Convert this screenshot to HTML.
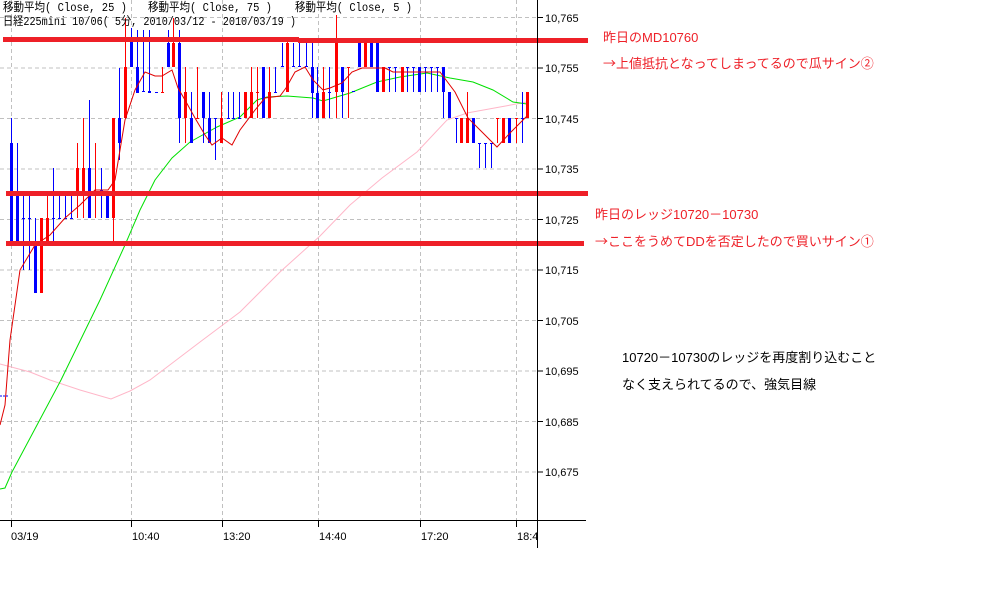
<!DOCTYPE html>
<html><head><meta charset="utf-8"><style>
html,body{margin:0;padding:0;background:#fff;width:989px;height:603px;overflow:hidden}
svg{display:block}
.h{font-family:"Liberation Mono","Noto Sans CJK JP",monospace;font-size:12px;fill:#000}
.ax{font-family:"Liberation Sans",sans-serif;font-size:11px;fill:#000}
.an{font-family:"Liberation Sans","Noto Sans CJK JP",sans-serif;font-size:13px}
.ar{font-family:"Noto Sans CJK JP",sans-serif}
</style></head><body>
<svg id="s" width="989" height="603" viewBox="0 0 989 603" xmlns="http://www.w3.org/2000/svg">
<g stroke="#c0c0c0" stroke-dasharray="4,3" stroke-width="1">
<line x1="0" x2="537" y1="17.5" y2="17.5"/><line x1="0" x2="537" y1="68" y2="68"/><line x1="0" x2="537" y1="118.5" y2="118.5"/><line x1="0" x2="537" y1="169" y2="169"/><line x1="0" x2="537" y1="219.5" y2="219.5"/><line x1="0" x2="537" y1="270" y2="270"/><line x1="0" x2="537" y1="320.5" y2="320.5"/><line x1="0" x2="537" y1="371" y2="371"/><line x1="0" x2="537" y1="421.5" y2="421.5"/><line x1="0" x2="537" y1="472" y2="472"/>
<line x1="11.5" x2="11.5" y1="0" y2="520"/><line x1="131.5" x2="131.5" y1="0" y2="520"/><line x1="222.5" x2="222.5" y1="0" y2="520"/><line x1="318.5" x2="318.5" y1="0" y2="520"/><line x1="420.5" x2="420.5" y1="0" y2="520"/><line x1="516.5" x2="516.5" y1="0" y2="520"/>
</g>
<polyline fill="none" stroke="#ffb6c8" stroke-width="1" points="0,364 30,372 50,380 80,390 111,399 130,391 150,380 200,342 240,312 280,272 320,236 350,205 382,178 417,152 447,120 467,113 500,107 527,102"/>
<polyline fill="none" stroke="#00e000" stroke-width="1" points="0,489 5,488 12,472 61,380 100,300 125,245 140,210 155,180 172,158 190,142 217,127 240,117 257,100 267,97 287,96 313,98 323,101 350,93 377,82 400,77 427,73 450,78 473,82 493,90 513,102 527,104"/>
<g id="bars"></g>
<polyline fill="none" stroke="#e00000" stroke-width="1" points="0,425 5,405 10,340 20,270 35,245 50,235 65,218 80,205 95,190 108,190 115,180 125,120 135,90 145,72 155,76 162,76 172,70 178,88 185,100 195,118 205,135 212,145 222,138 232,145 240,130 255,110 265,98 280,96 286,88 295,72 305,67 313,80 323,90 330,88 342,83 352,72 362,68 375,68 385,68 393,72 440,72 455,92 468,118 480,130 497,147 510,133 527,116"/>
<line x1="0" x2="8" y1="396" y2="396" stroke="#0000ff" stroke-dasharray="2,1"/>
<g fill="#ee2028">
<rect x="3" y="37" width="296" height="5"/><rect x="298" y="38" width="290" height="5"/>
<rect x="6" y="191" width="582" height="5"/>
<rect x="6" y="241" width="578" height="5"/>
</g>
<g stroke="#000" stroke-width="1">
<line x1="537.5" x2="537.5" y1="0" y2="548"/>
<line x1="0" x2="586" y1="520.5" y2="520.5"/>
<line x1="11.5" x2="11.5" y1="520" y2="527"/><line x1="131.5" x2="131.5" y1="520" y2="527"/><line x1="222.5" x2="222.5" y1="520" y2="527"/><line x1="318.5" x2="318.5" y1="520" y2="527"/><line x1="420.5" x2="420.5" y1="520" y2="527"/><line x1="516.5" x2="516.5" y1="520" y2="527"/>
<line x1="537" x2="543" y1="17.5" y2="17.5"/><line x1="537" x2="543" y1="68" y2="68"/><line x1="537" x2="543" y1="118.5" y2="118.5"/><line x1="537" x2="543" y1="169" y2="169"/><line x1="537" x2="543" y1="219.5" y2="219.5"/><line x1="537" x2="543" y1="270" y2="270"/><line x1="537" x2="543" y1="320.5" y2="320.5"/><line x1="537" x2="543" y1="371" y2="371"/><line x1="537" x2="543" y1="421.5" y2="421.5"/><line x1="537" x2="543" y1="472" y2="472"/>
</g>
<g class="ax">
<text x="545" y="22">10,765</text><text x="545" y="72">10,755</text><text x="545" y="123">10,745</text><text x="545" y="173">10,735</text><text x="545" y="224">10,725</text><text x="545" y="274">10,715</text><text x="545" y="325">10,705</text><text x="545" y="375">10,695</text><text x="545" y="426">10,685</text><text x="545" y="476">10,675</text>
<text x="11" y="540">03/19</text><text x="132" y="540">10:40</text><text x="223" y="540">13:20</text><text x="319" y="540">14:40</text><text x="421" y="540">17:20</text><text x="517" y="540">18:4</text>
</g>
<g class="h">
<text x="3" y="11" textLength="124" lengthAdjust="spacingAndGlyphs">移動平均( Close, 25 )</text>
<text x="148" y="11" textLength="124" lengthAdjust="spacingAndGlyphs">移動平均( Close, 75 )</text>
<text x="295" y="11" textLength="117" lengthAdjust="spacingAndGlyphs">移動平均( Close, 5 )</text>
<text x="3" y="25" textLength="293" lengthAdjust="spacingAndGlyphs">日経225mini 10/06( 5分, 2010/03/12 - 2010/03/19 )</text>
</g>
<g class="an" fill="#ee2028">
<text x="603" y="42">昨日のMD10760</text>
<text x="603" y="68"><tspan class="ar">→</tspan>上値抵抗となってしまってるので瓜サイン②</text>
<text x="595" y="219">昨日のレッジ10720－10730</text>
<text x="595" y="246"><tspan class="ar">→</tspan>ここをうめてDDを否定したので買いサイン①</text>
</g>
<g class="an" fill="#000">
<text x="622" y="362">10720－10730のレッジを再度割り込むこと</text>
<text x="622" y="389">なく支えられてるので、強気目線</text>
</g>
</svg>
<script>
var B=[
[11,'b',143,243,118,243],[17,'b',193,243,143,243],[23,'b',218,219,195,270],[29,'b',218,219,193,270],
[35,'b',243,293,218,293],[41,'r',218,293,218,293],[47,'r',218,243,193,243],[53,'b',218,219,168,243],
[59,'b',218,219,193,218],[65,'b',218,219,193,218],[71,'b',218,219,193,218],[77,'r',168,192,143,218],
[83,'r',168,193,118,218],[89,'b',168,218,100,218],[95,'r',192,193,143,218],[101,'b',190,192,168,218],
[107,'b',193,218,193,218],[113,'r',118,218,118,243],[119,'b',118,143,68,160],[125,'r',67,118,18,118],
[131,'b',40,67,28,67],[137,'b',67,93,30,93],[143,'b',91,92,30,92],[149,'b',91,93,30,93],
[156,'b',92,93,92,93],[162,'r',92,93,67,93],[168,'b',43,67,30,67],[173,'r',43,67,18,67],
[179,'b',43,118,30,143],[185,'r',92,118,67,143],[191,'b',118,143,92,143],[197,'r',118,119,67,118],
[203,'b',92,118,92,143],[209,'b',118,143,92,143],[215,'b',118,119,118,160],[221,'r',118,143,92,143],
[228,'b',118,119,92,118],[233,'b',118,119,92,118],[239,'b',118,119,92,118],[245,'r',92,118,92,118],
[251,'r',92,118,67,118],[257,'r',92,93,67,118],[263,'b',67,118,67,118],[269,'r',92,118,67,118],
[275,'b',92,93,67,93],[282,'b',66,67,43,67],[287,'r',43,92,37,92],[293,'b',66,67,43,67],
[299,'b',66,67,43,67],[306,'b',66,67,43,67],[312,'b',67,93,43,118],[317,'b',93,118,67,118],
[323,'r',92,118,67,118],[329,'b',92,93,67,118],[336,'r',43,92,15,118],[342,'b',67,92,67,118],
[348,'r',67,68,67,118],[353,'b',91,92,91,92],[359,'b',43,67,43,67],[365,'r',43,67,43,67],
[371,'b',43,67,43,67],[377,'b',43,92,43,92],[383,'r',67,92,67,92],[389,'b',67,68,67,92],
[395,'b',67,68,67,92],[402,'r',67,92,67,92],[407,'b',67,68,67,92],[413,'b',67,68,67,92],
[419,'b',67,92,67,92],[425,'b',67,68,67,92],[431,'b',67,68,67,92],[437,'b',67,68,67,92],
[443,'b',67,92,67,118],[449,'b',92,118,92,118],[456,'b',118,119,118,143],[461,'r',118,143,118,143],
[467,'r',118,143,92,143],[473,'b',118,143,118,143],[479,'b',143,144,143,168],[485,'b',143,144,143,168],
[491,'b',143,144,143,168],[497,'r',118,119,118,143],[503,'r',118,143,118,143],[509,'b',118,143,118,143],
[516,'r',118,119,118,143],[522,'b',118,119,92,143],[527,'r',92,118,92,118]];
var g=document.getElementById('bars'),h='';
B.forEach(function(b){var c=b[1]=='r'?'#ff0000':'#0000ff';
h+='<rect x="'+b[0]+'" y="'+b[4]+'" width="1" height="'+(b[5]-b[4])+'" fill="'+c+'"/>';
var bh=Math.max(1,b[3]-b[2]);h+='<rect x="'+(b[0]-1)+'" y="'+b[2]+'" width="3" height="'+bh+'" fill="'+c+'"/>';});
g.innerHTML=h;
</script>
</body></html>
